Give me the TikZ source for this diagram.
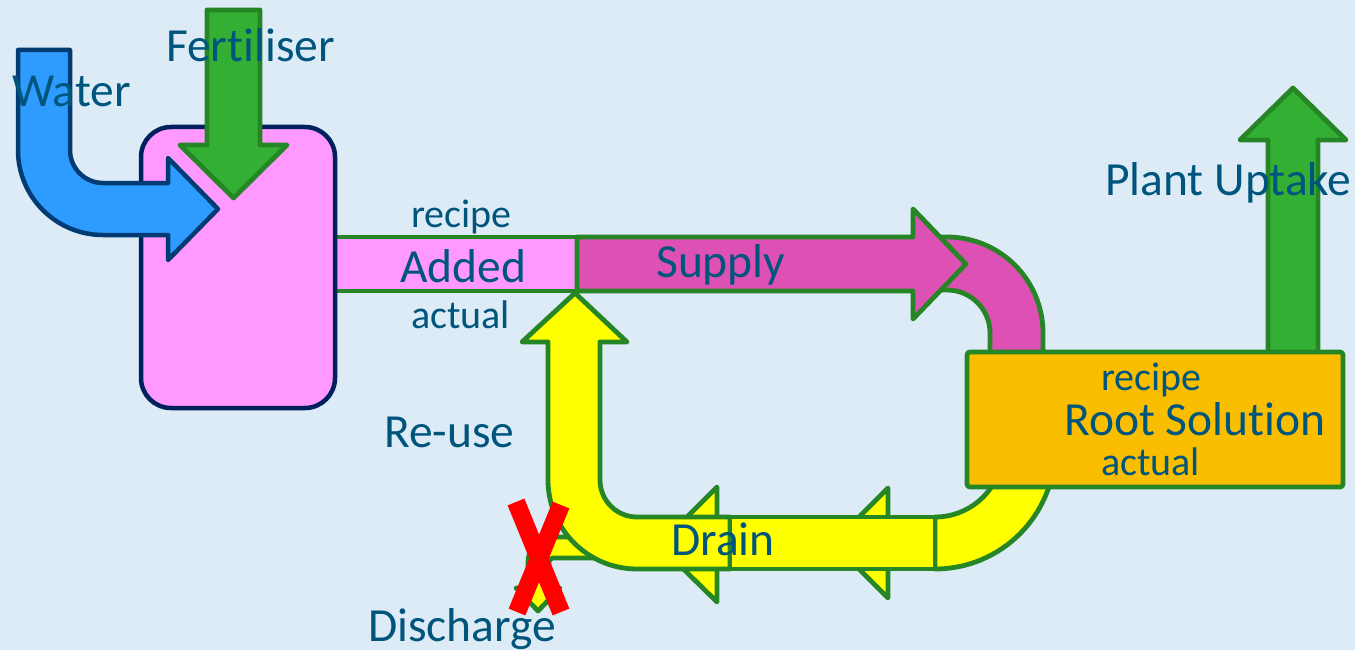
\documentclass[tikz,border=0pt]{standalone}
\usepackage{fontspec}
\setmainfont{Carlito}[Ligatures=NoCommon]

\definecolor{bg}{RGB}{220,235,246}
\definecolor{txt}{RGB}{0,85,125}
\definecolor{tankpink}{RGB}{255,153,255}
\definecolor{navy}{RGB}{0,32,96}
\definecolor{waterblue}{RGB}{46,156,255}
\definecolor{waterline}{RGB}{0,60,115}
\definecolor{leaf}{RGB}{51,176,51}
\definecolor{edge}{RGB}{38,134,38}
\definecolor{supplypink}{RGB}{221,80,180}
\definecolor{rootgold}{RGB}{249,190,0}
\definecolor{drainyellow}{RGB}{255,255,0}

\tikzset{
  flow/.style={draw=edge, line width=4.8pt, line join=round},
  bigtxt/.style={text=txt, font=\fontsize{47.5}{50}\selectfont, inner sep=0pt, anchor=base west},
  smalltxt/.style={text=txt, font=\fontsize{40}{42}\selectfont, inner sep=0pt, anchor=base west},
}

\begin{document}
\begin{tikzpicture}[x=1pt,y=-1pt]
\fill[bg] (0,0) rectangle (1355,650);
\useasboundingbox (0,0) rectangle (1355,650);

% outlet bar of the mixing tank
\draw[flow, fill=tankpink] (320,237) rectangle (577,291);

% mixing tank
\draw[draw=navy, line width=4.5pt, fill=tankpink, rounded corners=30pt]
  (141,127) rectangle (335,408);

% water inlet (bent arrow)
\draw[draw=waterline, line width=4.5pt, line join=round, fill=waterblue]
  (18,50) -- (70,50) -- (70,150) arc[start angle=180, end angle=90, radius=33]
  -- (168,183) -- (168,158) -- (218,209) -- (168,260) -- (168,235)
  -- (103,235) arc[start angle=90, end angle=180, radius=85] -- cycle;

% fertiliser inlet
\draw[flow, fill=leaf]
  (207,10) -- (260,10) -- (260,145) -- (287,145) -- (233.5,198)
  -- (180,145) -- (207,145) -- cycle;

% supply bend into the root zone
\draw[flow, fill=supplypink]
  (920,237) -- (947,237) arc[start angle=270, end angle=360, radius=96]
  -- (1043,370) -- (990,370) -- (990,333) arc[start angle=0, end angle=-90, radius=43]
  -- (920,290) -- cycle;

% supply arrow
\draw[flow, fill=supplypink]
  (577,237) -- (913,237) -- (913,209) -- (966,264) -- (913,319)
  -- (913,291) -- (577,291) -- cycle;

% plant uptake
\draw[flow, fill=leaf]
  (1268,370) -- (1268,140) -- (1240,140) -- (1293,88) -- (1346,140)
  -- (1318,140) -- (1318,370) -- cycle;

% drain arrow heads
\draw[flow, fill=drainyellow] (717,487) -- (717,602) -- (659,545) -- cycle;
\draw[flow, fill=drainyellow] (888,488) -- (888,598) -- (833,543) -- cycle;

% discharge branch
\draw[flow, fill=drainyellow]
  (610,537) -- (553,537) arc[start angle=270, end angle=180, radius=25]
  -- (528,588) -- (516,588) -- (538,611) -- (560,588) -- (549,588)
  -- (549,562) arc[start angle=180, end angle=270, radius=4]
  -- (610,558) -- cycle;

% re-use bend
\draw[flow, fill=drainyellow]
  (575,293) -- (627,342) -- (600,342) -- (600,480)
  arc[start angle=180, end angle=90, radius=37]
  -- (730,517) -- (730,569) -- (637,569)
  arc[start angle=90, end angle=180, radius=89]
  -- (548,342) -- (522,342) -- cycle;

% drain bend from the root zone
\draw[flow, fill=drainyellow]
  (935,517) arc[start angle=90, end angle=0, radius=68]
  -- (1003,420) -- (1055,420) -- (1055,449)
  arc[start angle=0, end angle=90, radius=120] -- cycle;

% drain bar
\draw[flow, fill=drainyellow] (730,517) rectangle (935,569);

% root solution box
\draw[flow, fill=rootgold, rounded corners=3pt] (967,352) rectangle (1343,487);

% discharge blocked
\draw[red, line width=18pt] (516,502) -- (561,612);
\draw[red, line width=18pt] (561,505) -- (517,612);

% labels
\node[bigtxt] (water) at (12,107) {Water};
\node[bigtxt] (fert) at (166,62) {Fertiliser};
\node[bigtxt] (uptake) at (1105,195) {Plant Uptake};
\node[smalltxt] (recA) at (411,227) {recipe};
\node[bigtxt] (added) at (400,282) {Added};
\node[smalltxt] (actA) at (411,328) {actual};
\node[bigtxt] (supply) at (656,277) {Supply};
\node[smalltxt] (recR) at (1101,390) {recipe};
\node[bigtxt] (root) at (1064,435) {Root Solution};
\node[smalltxt] (actR) at (1101,475) {actual};
\node[bigtxt] (drain) at (671,555) {Drain};
\node[bigtxt] (reuse) at (384,447) {Re-use};
\node[bigtxt] (disch) at (368,641) {Discharge};
\end{tikzpicture}
\end{document}
